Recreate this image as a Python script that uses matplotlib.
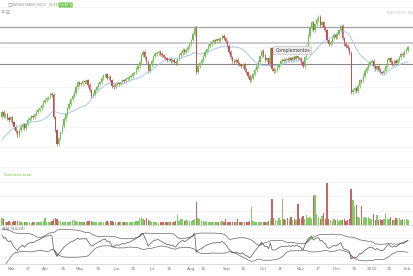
import numpy as np
import pandas as pd
import matplotlib
matplotlib.use("Agg")
import matplotlib.pyplot as plt

# daily closes (EUR), first trading day ~ late Feb 2019
closes = [
    23.10, 23.02, 23.06, 22.98, 22.94, 23.00, 22.90, 22.80, 22.72, 22.64,
    22.74, 22.80, 22.86, 22.78, 22.86, 22.94, 22.98, 23.02, 23.00, 23.06,
    23.10, 23.14, 23.18, 23.24, 23.30, 23.34, 23.38, 23.40, 23.46, 23.44,
    23.00, 22.74, 22.46, 22.58, 22.70, 22.82, 22.96, 23.06, 23.18, 23.26,
    23.36, 23.42, 23.48, 23.60, 23.70, 23.66, 23.68, 23.72, 23.70, 23.74,
    23.64, 23.54, 23.42, 23.46, 23.54, 23.60, 23.66, 23.70, 23.78, 23.84,
    23.86, 23.78, 23.80, 23.74, 23.62, 23.60, 23.66, 23.68, 23.66, 23.70,
    23.74, 23.72, 23.76, 23.78, 23.80, 23.82, 23.88, 23.90, 23.96, 24.02,
    24.10, 24.24, 24.30, 24.20, 24.10, 23.92, 24.04, 24.12, 24.22, 24.26,
    24.28, 24.30, 24.26, 24.24, 24.20, 24.18, 24.14, 24.16, 24.12, 24.14,
    24.10, 24.08, 24.16, 24.24, 24.28, 24.34, 24.30, 24.34, 24.40, 24.46,
    24.54, 24.66, 24.78, 23.90, 24.02, 24.08, 24.14, 24.22, 24.30, 24.36,
    24.42, 24.46, 24.50, 24.54, 24.52, 24.56, 24.54, 24.58, 24.62, 24.58,
    24.52, 24.42, 24.30, 24.20, 24.12, 24.10, 24.14, 24.08, 24.06, 24.02,
    24.06, 23.94, 23.90, 23.82, 23.74, 23.78, 23.86, 23.94, 24.02, 24.10,
    24.22, 24.32, 24.24, 24.14, 24.18, 24.06, 24.38, 23.96, 23.92, 23.94,
    24.00, 24.06, 24.12, 24.14, 24.12, 24.16, 24.14, 24.18, 24.14, 24.20,
    24.16, 24.22, 24.18, 24.16, 24.10, 24.02, 24.20, 24.42, 24.62, 24.78,
    24.90, 24.74, 24.86, 24.94, 25.00, 24.84, 24.90, 24.78, 24.74, 24.54,
    24.46, 24.50, 24.58, 24.64, 24.60, 24.66, 24.74, 24.82, 24.58, 24.46,
    24.42, 24.38, 24.28, 23.50, 23.54, 23.58, 23.52, 23.62, 23.74, 23.72,
    23.82, 23.92, 23.98, 24.06, 24.10, 24.12, 24.02, 23.96, 24.02, 23.94,
    23.90, 23.88, 23.92, 24.02, 24.14, 24.18, 24.10, 24.06, 24.12, 24.08,
    24.14, 24.20, 24.26, 24.24, 24.30, 24.34, 24.40,
]
# closes before the visible window, only feed the moving average
history = [22.20, 22.16, 22.24, 22.30, 22.28, 22.36, 22.34, 22.40, 22.46, 22.44,
           22.52, 22.58, 22.56, 22.64, 22.70, 22.76, 22.84, 22.92, 23.00]

# volume, millions of shares
volume = [
    3.5, 3.0, 1.6, 1.4, 1.8, 1.5, 1.7, 1.9, 2.0, 1.8,
    2.2, 1.6, 1.5, 1.4, 1.3, 1.6, 1.5, 1.2, 1.4, 1.6,
    1.5, 1.3, 1.4, 1.7, 1.8, 3.5, 1.6, 1.5, 1.7, 1.9,
    3.0, 3.2, 2.8, 2.0, 1.8, 1.5, 1.4, 1.6, 1.5, 1.3,
    1.8, 2.4, 2.6, 2.2, 1.6, 1.4, 1.5, 1.3, 1.6, 1.4,
    1.8, 2.0, 2.1, 1.5, 1.4, 1.3, 1.2, 1.4, 1.5, 1.3,
    1.4, 2.0, 1.6, 1.9, 2.0, 1.5, 1.3, 1.2, 1.4, 1.3,
    1.5, 1.6, 1.4, 1.3, 1.5, 1.7, 1.4, 1.6, 1.8, 2.0,
    3.4, 3.8, 3.0, 2.6, 3.6, 2.4, 1.8, 1.6, 1.5, 1.3,
    1.4, 1.2, 1.3, 1.5, 1.4, 1.3, 1.6, 1.4, 1.5, 1.7,
    1.6, 1.8, 5.0, 2.2, 2.8, 3.0, 2.0, 2.4, 1.8, 2.0,
    2.2, 2.6, 3.0, 11.5, 3.4, 3.0, 2.0, 1.8, 1.6, 2.0,
    1.7, 1.5, 1.6, 1.4, 1.3, 1.5, 1.4, 1.6, 1.8, 1.5,
    3.0, 1.6, 1.7, 1.5, 1.4, 1.3, 1.6, 3.0, 1.5, 1.6,
    1.4, 1.5, 1.7, 1.6, 2.0, 9.0, 1.8, 1.6, 1.5, 1.4,
    1.6, 1.7, 1.5, 1.4, 1.6, 1.8, 3.0, 13.0, 3.5, 2.5,
    2.0, 3.2, 2.4, 13.0, 3.0, 2.5, 3.6, 2.8, 4.0, 2.6,
    3.0, 2.4, 10.5, 3.0, 3.6, 4.5, 2.8, 5.0, 3.6, 4.0,
    3.0, 14.0, 14.5, 5.5, 4.0, 3.0, 4.2, 6.0, 3.0, 20.5,
    3.0, 2.6, 2.0, 2.8, 2.4, 3.0, 2.2, 2.6, 2.4, 2.8,
    2.2, 2.5, 3.0, 17.5, 12.5, 9.0, 10.0, 4.0, 3.5, 9.5,
    3.5, 4.0, 3.2, 3.8, 3.0, 2.8, 5.5, 2.6, 5.0, 2.4,
    3.0, 2.6, 2.8, 6.0, 3.0, 2.8, 4.0, 2.4, 2.6, 3.2,
    2.8, 3.4, 2.6, 3.0, 2.5, 2.8, 2.4,
]

levels = [24.80, 24.48, 24.06]   # horizontal support / resistance lines

tick_idx = [5.8, 15.1, 25.6, 35.5, 45.3, 55.8, 66.3, 76.2, 87.2, 97.1, 109.9, 116.9,
            130.8, 140.1, 151.7, 161.6, 173.8, 183.7, 194.8, 204.7, 215.1, 225.0, 235.5]
tick_lab = ["Mar", "17", "Apr", "15", "May", "15", "Jun", "15", "Jul", "15", "Aug", "15",
            "Sep", "15", "Oct", "15", "Nov", "17", "Dec", "15", "2020", "15", "Feb"]

n = min(len(closes), len(volume))
closes = np.array(closes[:n])
volume = np.array(volume[:n])
x = np.arange(n)
opens = np.concatenate([[history[-1]], closes[:-1]])
up = closes >= opens
wick = 0.03
highs = np.maximum(opens, closes) + wick
lows = np.minimum(opens, closes) - wick

full = pd.Series(list(history) + list(closes))
ma = full.rolling(20).mean().values[len(history):]

# rsi 14 with bollinger 20 on top
delta = full.diff()
gain = delta.clip(lower=0).ewm(alpha=1 / 14, adjust=False).mean()
loss = (-delta.clip(upper=0)).ewm(alpha=1 / 14, adjust=False).mean()
rsi_full = 100 - 100 / (1 + gain / loss)
mid = rsi_full.rolling(20, min_periods=1).mean()
sd = rsi_full.rolling(20, min_periods=2).std().fillna(5)
rsi = rsi_full.values[len(history):]
upper = (mid + 2 * sd).values[len(history):]
lower = (mid - 2 * sd).values[len(history):]

GREEN = "#6cbf4f"
RED = "#bf5252"
W, H = 414, 276
fig = plt.figure(figsize=(W / 100, H / 100), dpi=100)


def px_axes(top, bottom):
    return fig.add_axes([0, 1 - bottom / H, 1, (bottom - top) / H])


xlim = (-2 / 1.72, (W - 2) / 1.72)

# price panel
ax = px_axes(0, 170)
ax.set_xlim(*xlim)
ax.set_ylim(21.94, 25.34)
for g in np.arange(22.0, 25.4, 0.4):
    ax.axhline(g, color="#f3f3f3", lw=0.5, zorder=0)
ax.axhline(levels[0], color="#a8a8a8", lw=1.0, zorder=1)
ax.axhline(levels[1], color="#c4c4c4", lw=1.2, zorder=1)
ax.axhline(levels[2], color="#8a8a8a", lw=0.8, zorder=1)
cols = np.where(up, GREEN, RED)
ax.vlines(x, lows, highs, colors=cols, lw=0.5, zorder=2)
ax.bar(x, np.maximum(np.abs(closes - opens), 0.015), bottom=np.minimum(opens, closes),
       width=0.75, color=cols, lw=0, zorder=3)
ax.plot(x, ma, color="#a9c9ef", lw=0.7, zorder=2)
ax.text(169, 24.33, "Complementos", fontsize=3.3, color="#444", ha="center", va="center",
        bbox=dict(boxstyle="round,pad=0.35", fc="#ececec", ec="#bbbbbb", lw=0.4), zorder=5)
ax.axis("off")

# header
fig.text(8 / W, 1 - 5 / H, "\u25a1", fontsize=3.2, color="#777", va="center")
fig.text(12.5 / W, 1 - 5 / H, "NATURGY ENERGY (SOCIE)", fontsize=1.9, color="#888",
         va="center")
fig.text(49 / W, 1 - 5 / H, "24.44", fontsize=2.4, color=GREEN, va="center")
fig.text(59 / W, 1 - 5 / H, "+0.45 %", fontsize=2.2, color="white", va="center",
         bbox=dict(boxstyle="round,pad=0.2", fc="#7cc95e", ec="none"))
fig.text(1 / W, 1 - 12 / H, "\u2261", fontsize=3.5, color="#999", va="center")
fig.text(6 / W, 1 - 12 / H, "\u229e", fontsize=3.5, color="#999", va="center")
fig.text(413 / W, 1 - 13 / H, "NATURGY EN", fontsize=3.0, color="#c8c8c8", va="center",
         ha="right")

# volume panel
av = px_axes(172, 225)
av.set_xlim(*xlim)
av.set_ylim(0, 26)
for g in (7, 14, 21):
    av.axhline(g, color="#f0f0f0", lw=0.5, zorder=0)
av.bar(x, volume, width=0.8, color=np.where(up, "#7fcb66", "#c96565"), lw=0, zorder=2)
av.text(1, 24.5, "Volumen total", fontsize=2.8, color="#7cbf3a", va="center")
for s in ("top", "left", "right"):
    av.spines[s].set_visible(False)
av.spines["bottom"].set_color("#cccccc")
av.spines["bottom"].set_linewidth(0.5)
av.set_xticks([])
av.set_yticks([])

# oscillator panel
ao = px_axes(226, 264)
ao.set_xlim(*xlim)
ao.set_ylim(12, 98)
for g in (30, 70):
    ao.axhline(g, color="#eeeeee", lw=0.5, zorder=0)
ao.fill_between(x, rsi, upper, where=rsi > upper, interpolate=True,
                color="#c5e8b4", ec="#7cc95e", lw=0.4, zorder=1)
ao.fill_between(x, rsi, lower, where=rsi < lower, interpolate=True,
                color="#f2cccc", ec="#d08080", lw=0.4, zorder=1)
ao.plot(x, upper, color="#666666", lw=0.5, zorder=2)
ao.plot(x, lower, color="#666666", lw=0.5, zorder=2)
ao.plot(x, rsi, color="#555555", lw=0.5, zorder=3)
ao.text(0.5, 95, "RSI (14,20)", fontsize=2.8, color="#555", va="top")
for s in ("top", "left", "right"):
    ao.spines[s].set_visible(False)
ao.spines["bottom"].set_color("#cccccc")
ao.spines["bottom"].set_linewidth(0.5)
ao.set_yticks([])
ao.set_xticks(tick_idx)
ao.set_xticklabels(tick_lab, fontsize=3.0, color="#777")
ao.tick_params(axis="x", length=0, pad=2.5)

fig.savefig("out.png", dpi=100, facecolor="white")
